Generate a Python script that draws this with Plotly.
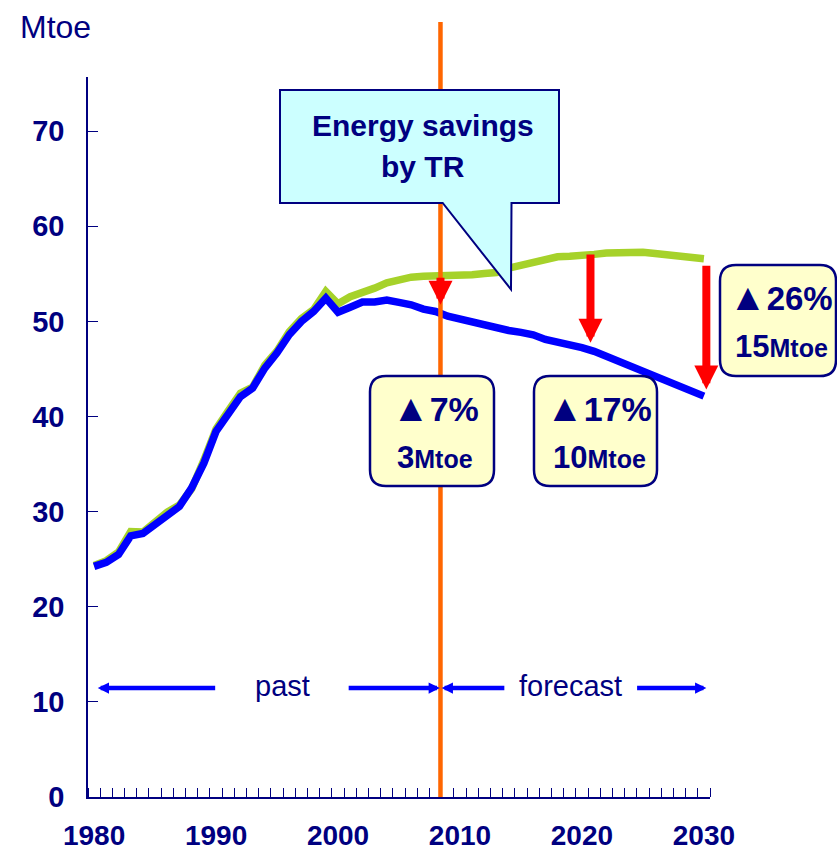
import plotly.graph_objects as go

# ---- data -------------------------------------------------------------
years = list(range(1980, 2031))

# energy demand with transport-related (TR) measures, Mtoe
with_tr = [
    24.25, 24.67, 25.5, 27.45, 27.7, 28.6, 29.7, 30.55, 32.5, 35.1,
    38.45, 40.4, 42.1, 43.0, 45.1, 46.7, 48.6, 50.0, 51.05, 52.45,
    50.96, 51.5, 52.05, 52.05, 52.25, 52.0, 51.75, 51.3, 51.05, 50.55,
    50.25, 49.75, 49.5, 49.25, 49.05, 48.85, 48.6, 48.1, 47.85, 47.55,
    47.25, 46.85, 46.35, 45.85, 45.3, 44.8, 44.25, 43.75, 43.3, 42.75,
    42.15,
]

# energy demand without TR measures, Mtoe
without_tr = [
    24.35, 24.85, 25.75, 27.9, 27.85, 28.85, 29.95, 30.7, 32.4, 35.4,
    38.7, 40.6, 42.45, 43.1, 45.4, 46.9, 48.9, 50.3, 51.25, 53.15,
    51.85, 52.6, 53.0, 53.5, 54.05, 54.45, 54.65, 54.75, 54.75, 54.75,
    54.8, 54.9, 55.05, 55.15, 55.6, 55.95, 56.3, 56.55, 56.8, 56.85,
    56.9, 57.05, 57.2, 57.27, 57.27, 57.27, 57.15, 57.05, 56.95, 56.8,
    56.6,
]

divider_year = 2008.4          # boundary between past and forecast

# savings arrows: year, top value, tip value
saving_years = [2008.4, 2020.7, 2030.2]
saving_top = [54.75, 57.2, 56.0]
saving_tip = [51.75, 47.75, 42.85]
saving_pct = ["7%", "17%", "26%"]
saving_mtoe = ["3", "10", "15"]

# period arrows (tip year, tail year) and labels
period_y = 11.46
period_arrows = [(1980.3, 1990.05), (2008.35, 2000.75), (2008.5, 2013.76), (2030.2, 2024.4)]
period_labels = [("past", 282), ("forecast", 570)]

x_ticks = [1980, 1990, 2000, 2010, 2020, 2030]
y_ticks = [0, 10, 20, 30, 40, 50, 60, 70]

# ---- layout constants -------------------------------------------------
W, H = 837, 854
ML, MR, MT, MB = 88, 127, 77, 57
PW, PH = W - ML - MR, H - MT - MB
NAVY = "#000080"
FONT = "Liberation Sans, Arial, sans-serif"


def px(x):
    return (x - ML) / PW


def py(y):
    return (H - MB - y) / PH


def rounded_box(x0, y0, x1, y1, r):
    pts = [
        ("M", [(x0 + r, y0)]),
        ("L", [(x1 - r, y0)]),
        ("Q", [(x1, y0), (x1, y0 + r)]),
        ("L", [(x1, y1 - r)]),
        ("Q", [(x1, y1), (x1 - r, y1)]),
        ("L", [(x0 + r, y1)]),
        ("Q", [(x0, y1), (x0, y1 - r)]),
        ("L", [(x0, y0 + r)]),
        ("Q", [(x0, y0), (x0 + r, y0)]),
    ]
    s = ""
    for cmd, ps in pts:
        s += cmd + " " + " ".join(f"{px(a):.5f},{py(b):.5f}" for a, b in ps) + " "
    return s + "Z"


def polygon(points):
    return "M " + " L ".join(f"{px(a):.5f},{py(b):.5f}" for a, b in points) + " Z"


fig = go.Figure()

fig.add_trace(go.Scatter(
    x=years, y=without_tr, mode="lines",
    line=dict(color="#A6D22A", width=7.5), hoverinfo="skip", showlegend=False,
))
fig.add_trace(go.Scatter(
    x=years, y=with_tr, mode="lines",
    line=dict(color="#0000FF", width=7.5), hoverinfo="skip", showlegend=False,
))

shapes = []
# past / forecast divider
shapes.append(dict(
    type="line", xref="x", yref="paper", x0=divider_year, x1=divider_year,
    y0=0, y1=py(22), line=dict(color="#FF6600", width=4.5), layer="above",
))
# callout box
shapes.append(dict(
    type="path", xref="paper", yref="paper",
    path=polygon([(280, 90), (559, 90), (559, 203), (511.5, 203), (511, 289.5),
                  (442.7, 203), (280, 203)]),
    fillcolor="#CCFFFF", line=dict(color=NAVY, width=2), layer="above",
))
# savings boxes
boxes = [(370, 376, 494, 486), (534, 376, 657, 486), (720, 265, 836, 376)]
for b in boxes:
    shapes.append(dict(
        type="path", xref="paper", yref="paper", path=rounded_box(*b, 16),
        fillcolor="#FFFFCC", line=dict(color=NAVY, width=2.5), layer="above",
    ))

annotations = []
# axis unit
annotations.append(dict(
    text="Mtoe", xref="paper", yref="paper", x=px(55), y=py(27),
    xanchor="center", yanchor="middle", showarrow=False,
    font=dict(family=FONT, size=32, color=NAVY),
))
# callout text
for txt, yy in [("Energy savings", 126), ("by TR", 166)]:
    annotations.append(dict(
        text=txt, xref="paper", yref="paper", x=px(423), y=py(yy),
        xanchor="center", yanchor="middle", showarrow=False,
        font=dict(family=FONT, size=30, color=NAVY, weight="bold"),
    ))

# savings arrows
for yr, top, tip in zip(saving_years, saving_top, saving_tip):
    annotations.append(dict(
        text="", x=yr, y=tip, ax=yr, ay=top, xref="x", yref="y", axref="x", ayref="y",
        showarrow=True, arrowhead=2, arrowsize=0.6, arrowwidth=8, arrowcolor="#FF0000",
        standoff=0, startstandoff=0, font=dict(size=1),
    ))

# savings labels: (centre x, first line y, second line y, first line size)
label_pos = [(435, 409, 457, 34), (599, 409, 457, 34), (781, 298, 346, 33)]
for (cx, y1, y2, fs), pct, mt in zip(label_pos, saving_pct, saving_mtoe):
    annotations.append(dict(
        text="<span style='font-size:38px'>\u25B2</span>" + pct, xref="paper", yref="paper",
        x=px(cx), y=py(y1 - 1), xanchor="center", yanchor="middle", showarrow=False,
        font=dict(family=FONT, size=fs, color=NAVY, weight="bold"),
    ))
    annotations.append(dict(
        text=mt + "<span style='font-size:25px'>Mtoe</span>", xref="paper", yref="paper",
        x=px(cx), y=py(y2), xanchor="center", yanchor="middle", showarrow=False,
        font=dict(family=FONT, size=31, color=NAVY, weight="bold"),
    ))

# period arrows
for tip, tail in period_arrows:
    annotations.append(dict(
        text="", x=tip, y=period_y, ax=tail, ay=period_y, xref="x", yref="y",
        axref="x", ayref="y", showarrow=True, arrowhead=2, arrowsize=0.5,
        arrowwidth=4.5, arrowcolor="#0000FF", standoff=0, startstandoff=0,
        font=dict(size=1),
    ))
for txt, cx in period_labels:
    annotations.append(dict(
        text=txt, xref="paper", yref="paper", x=px(cx), y=py(686),
        xanchor="center", yanchor="middle", showarrow=False,
        font=dict(family=FONT, size=29, color=NAVY),
    ))

fig.update_layout(
    width=W, height=H, margin=dict(l=ML, r=MR, t=MT, b=MB, autoexpand=False),
    paper_bgcolor="white", plot_bgcolor="white",
    shapes=shapes, annotations=annotations, showlegend=False,
    xaxis=dict(
        range=[1979.5, 2030.5], tickmode="array", tickvals=x_ticks,
        ticktext=[str(v) for v in x_ticks], ticks="", automargin=False,
        showline=True, linecolor=NAVY, linewidth=1.5, showgrid=False, zeroline=False,
        minor=dict(ticks="inside", tick0=1979.5, dtick=1, ticklen=9,
                   tickcolor=NAVY, tickwidth=1, showgrid=False),
        tickfont=dict(family=FONT, size=28, color=NAVY, weight="bold"),
        ticklabelstandoff=13,
    ),
    yaxis=dict(
        range=[0, 75.7], tickmode="array", tickvals=y_ticks, ticks="inside",
        ticklen=10, tickcolor=NAVY, tickwidth=1, automargin=False,
        showline=True, linecolor=NAVY, linewidth=1.5, showgrid=False, zeroline=False,
        tickfont=dict(family=FONT, size=29, color=NAVY, weight="bold"),
        ticklabelstandoff=16,
    ),
)

fig.write_html("out.html", config={"displayModeBar": False})
